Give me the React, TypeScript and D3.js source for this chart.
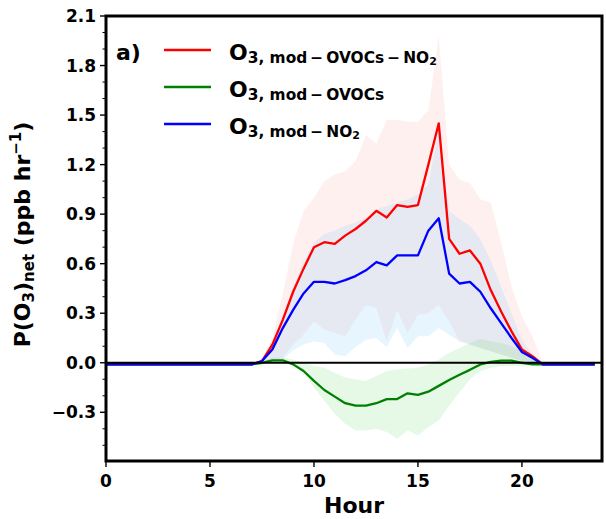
import React from 'react';
import * as d3 from 'd3';

// --- data: half-hourly diurnal P(O3)net, hour 0 .. 23.5 ---
const hours = [
  0, 0.5, 1, 1.5, 2, 2.5, 3, 3.5, 4, 4.5, 5, 5.5, 6, 6.5, 7, 7.5,
  8, 8.5, 9, 9.5, 10, 10.5, 11, 11.5, 12, 12.5, 13, 13.5, 14, 14.5, 15, 15.5,
  16, 16.5, 17, 17.5, 18, 18.5, 19, 19.5, 20, 20.5, 21, 21.5, 22, 22.5, 23, 23.5,
];

const redMean = [
  -0.01, -0.01, -0.01, -0.01, -0.01, -0.01, -0.01, -0.01, -0.01, -0.01, -0.01, -0.01, -0.01, -0.01, -0.01, 0.01,
  0.11, 0.26, 0.43, 0.57, 0.70, 0.73, 0.72, 0.77, 0.81, 0.86, 0.92, 0.88, 0.955, 0.944, 0.955, 1.20,
  1.45, 0.75, 0.66, 0.68, 0.60, 0.44, 0.31, 0.19, 0.08, 0.04, -0.01, -0.01, -0.01, -0.01, -0.01, -0.01,
];
const redUpper = [
  -0.01, -0.01, -0.01, -0.01, -0.01, -0.01, -0.01, -0.01, -0.01, -0.01, -0.01, -0.01, -0.01, -0.01, -0.01, 0.02,
  0.15, 0.42, 0.72, 0.92, 1.0, 1.1, 1.14, 1.16, 1.22, 1.38, 1.33, 1.47, 1.47, 1.46, 1.46, 1.53,
  1.98, 1.2, 1.11, 1.09, 0.99, 0.97, 0.73, 0.46, 0.28, 0.16, 0.0, -0.01, -0.01, -0.01, -0.01, -0.01,
];
const redLower = [
  -0.01, -0.01, -0.01, -0.01, -0.01, -0.01, -0.01, -0.01, -0.01, -0.01, -0.01, -0.01, -0.01, -0.01, -0.01, 0.0,
  0.01, 0.03, 0.11, 0.17, 0.25, 0.2, 0.18, 0.16, 0.26, 0.35, 0.33, 0.13, 0.32, 0.18, 0.29, 0.30,
  0.35, 0.25, 0.13, 0.11, 0.09, 0.07, 0.05, 0.03, 0.01, 0.0, -0.01, -0.01, -0.01, -0.01, -0.01, -0.01,
];

const greenMean = [
  -0.01, -0.01, -0.01, -0.01, -0.01, -0.01, -0.01, -0.01, -0.01, -0.01, -0.01, -0.01, -0.01, -0.01, -0.01, 0.0,
  0.015, 0.015, -0.01, -0.05, -0.11, -0.165, -0.205, -0.245, -0.26, -0.26, -0.245, -0.22, -0.22, -0.185, -0.195, -0.175,
  -0.14, -0.105, -0.073, -0.043, -0.01, 0.005, 0.013, 0.013, 0.0, -0.01, -0.01, -0.01, -0.01, -0.01, -0.01, -0.01,
];
const greenUpper = [
  -0.01, -0.01, -0.01, -0.01, -0.01, -0.01, -0.01, -0.01, -0.01, -0.01, -0.01, -0.01, -0.01, -0.01, -0.01, 0.01,
  0.03, 0.03, 0.02, 0.0, -0.02, -0.03, -0.06, -0.09, -0.10, -0.11, -0.08, -0.05, -0.04, -0.035, -0.03, -0.01,
  0.02, 0.06, 0.09, 0.12, 0.145, 0.13, 0.12, 0.10, 0.07, 0.03, 0.0, -0.01, -0.01, -0.01, -0.01, -0.01,
];
const greenLower = [
  -0.01, -0.01, -0.01, -0.01, -0.01, -0.01, -0.01, -0.01, -0.01, -0.01, -0.01, -0.01, -0.01, -0.01, -0.01, -0.01,
  0.0, 0.0, -0.02, -0.06, -0.15, -0.23, -0.31, -0.37, -0.41, -0.41, -0.40, -0.42, -0.46, -0.41, -0.44, -0.39,
  -0.35, -0.26, -0.18, -0.10, -0.05, -0.03, -0.02, -0.02, -0.02, -0.01, -0.01, -0.01, -0.01, -0.01, -0.01, -0.01,
];

const blueMean = [
  -0.01, -0.01, -0.01, -0.01, -0.01, -0.01, -0.01, -0.01, -0.01, -0.01, -0.01, -0.01, -0.01, -0.01, -0.01, 0.01,
  0.08, 0.21, 0.32, 0.42, 0.49, 0.49, 0.48, 0.50, 0.525, 0.56, 0.61, 0.59, 0.65, 0.65, 0.65, 0.80,
  0.875, 0.54, 0.48, 0.49, 0.43, 0.33, 0.24, 0.15, 0.065, 0.03, -0.01, -0.01, -0.01, -0.01, -0.01, -0.01,
];
const blueUpper = [
  -0.01, -0.01, -0.01, -0.01, -0.01, -0.01, -0.01, -0.01, -0.01, -0.01, -0.01, -0.01, -0.01, -0.01, -0.01, 0.02,
  0.12, 0.28, 0.46, 0.61, 0.73, 0.78, 0.80, 0.83, 0.85, 0.88, 0.93, 0.95, 0.97, 0.99, 1.02, 1.08,
  1.42, 0.92, 0.87, 0.83, 0.75, 0.62, 0.46, 0.30, 0.14, 0.05, 0.0, -0.01, -0.01, -0.01, -0.01, -0.01,
];
const blueLower = [
  -0.01, -0.01, -0.01, -0.01, -0.01, -0.01, -0.01, -0.01, -0.01, -0.01, -0.01, -0.01, -0.01, -0.01, -0.01, 0.0,
  0.0, 0.02, 0.075, 0.11, 0.13, 0.12, 0.05, 0.04, 0.095, 0.14, 0.15, 0.095, 0.21, 0.09, 0.16, 0.16,
  0.21, 0.17, 0.13, 0.11, 0.09, 0.07, 0.05, 0.03, 0.01, 0.0, -0.01, -0.01, -0.01, -0.01, -0.01, -0.01,
];

const xTicks = [0, 5, 10, 15, 20];
const yTicks = [-0.3, 0, 0.3, 0.6, 0.9, 1.2, 1.5, 1.8, 2.1];

const FONT = '"DejaVu Sans", sans-serif';

type Series = { key: string; color: string; band: string; bandOpacity: number; mean: number[]; lo: number[]; hi: number[] };

const series: Series[] = [
  { key: 'red', color: '#ff0000', band: '#ff0000', bandOpacity: 0.06, mean: redMean, lo: redLower, hi: redUpper },
  { key: 'blue', color: '#0000ff', band: '#87cefa', bandOpacity: 0.2, mean: blueMean, lo: blueLower, hi: blueUpper },
  { key: 'green', color: '#008000', band: '#32cd32', bandOpacity: 0.12, mean: greenMean, lo: greenLower, hi: greenUpper },
];

export default function App() {
  const W = 606, H = 519;
  const left = 106, right = 602, top = 16, bottom = 461;

  const x = d3.scaleLinear().domain([0, 23.85]).range([left, right]);
  const y = d3.scaleLinear().domain([-0.595, 2.1]).range([bottom, top]);

  const yMinor = d3.range(-5, 22).map(d => d / 10).filter(v => Math.round(v * 10) % 3 !== 0);

  const area = (s: Series) => d3.area<number>()
    .x((_, i) => x(hours[i]))
    .y0((_, i) => y(s.lo[i]))
    .y1((_, i) => y(s.hi[i]))(hours) ?? '';
  const line = (vals: number[]) => d3.line<number>()
    .x((_, i) => x(hours[i]))
    .y(d => y(d))(vals) ?? '';

  const lineOrder = [series[0], series[2], series[1]];
  const fmt = (v: number) => (v < 0 ? '\u2212' : '') + Math.abs(v).toFixed(1);

  // thin spaces round the minus, like mathtext
  const legend = [
    { color: '#ff0000', sub: '3, mod\u2009\u2212\u2009OVOCs\u2009\u2212\u2009NO', subsub: '2' },
    { color: '#008000', sub: '3, mod\u2009\u2212\u2009OVOCs', subsub: '' },
    { color: '#0000ff', sub: '3, mod\u2009\u2212\u2009NO', subsub: '2' },
  ];

  return (
    <svg width={W} height={H} style={{ position: 'absolute', left: 0, top: 0, background: '#fff' }} fontFamily={FONT} fontWeight="bold">
      <defs>
        <clipPath id="plot"><rect x={left} y={top} width={right - left} height={bottom - top} /></clipPath>
      </defs>
      <g clipPath="url(#plot)">
        {series.map(s => (
          <path key={'b' + s.key} d={area(s)} fill={s.band} fillOpacity={s.bandOpacity} stroke="none" />
        ))}
        {lineOrder.map(s => (
          <path key={'l' + s.key} d={line(s.mean)} fill="none" stroke={s.color} strokeWidth={2.3} strokeLinejoin="round" />
        ))}
        <line x1={left} x2={right} y1={y(0)} y2={y(0)} stroke="#000" strokeWidth={2.2} />
      </g>

      {/* y ticks */}
      {yMinor.map(v => (
        <line key={'ym' + v} x1={left - 3.5} x2={left} y1={y(v)} y2={y(v)} stroke="#000" strokeWidth={1} />
      ))}
      {yTicks.map(v => (
        <g key={'y' + v}>
          <line x1={left - 6} x2={left} y1={y(v)} y2={y(v)} stroke="#000" strokeWidth={1.4} />
          <text x={left - 10} y={y(v)} dy="0.36em" textAnchor="end" fontSize={17}>{fmt(v)}</text>
        </g>
      ))}
      {/* x ticks */}
      {xTicks.map(v => (
        <g key={'x' + v}>
          <line x1={x(v)} x2={x(v)} y1={bottom} y2={bottom + 6} stroke="#000" strokeWidth={1.4} />
          <text x={x(v)} y={bottom + 26} textAnchor="middle" fontSize={17}>{v}</text>
        </g>
      ))}

      <rect x={left} y={top} width={right - left} height={bottom - top} fill="none" stroke="#000" strokeWidth={3} />

      <text x={(left + right) / 2} y={513} textAnchor="middle" fontSize={22}>Hour</text>
      <text transform={`translate(30, ${(top + bottom) / 2 - 4}) rotate(-90)`} textAnchor="middle" fontSize={22}>
        P(O<tspan fontSize={15} dy={4}>3</tspan><tspan dy={-4}>)</tspan><tspan fontSize={15} dy={4}>net</tspan><tspan dy={-4}> (ppb hr</tspan><tspan fontSize={15} dy={-9}>{'\u22121'}</tspan><tspan dy={9}>)</tspan>
      </text>

      <text x={116} y={60} fontSize={22}>a)</text>
      {legend.map((l, i) => {
        const ly = 50 + i * 37;
        return (
          <g key={'lg' + i}>
            <line x1={164} x2={211} y1={ly} y2={ly} stroke={l.color} strokeWidth={2.3} />
            <text x={229} y={ly + 10} fontSize={22}>
              O<tspan fontSize={15.4} dy={3}>{l.sub}</tspan>
              {l.subsub ? <tspan fontSize={11} dy={2}>{l.subsub}</tspan> : null}
            </text>
          </g>
        );
      })}
    </svg>
  );
}
